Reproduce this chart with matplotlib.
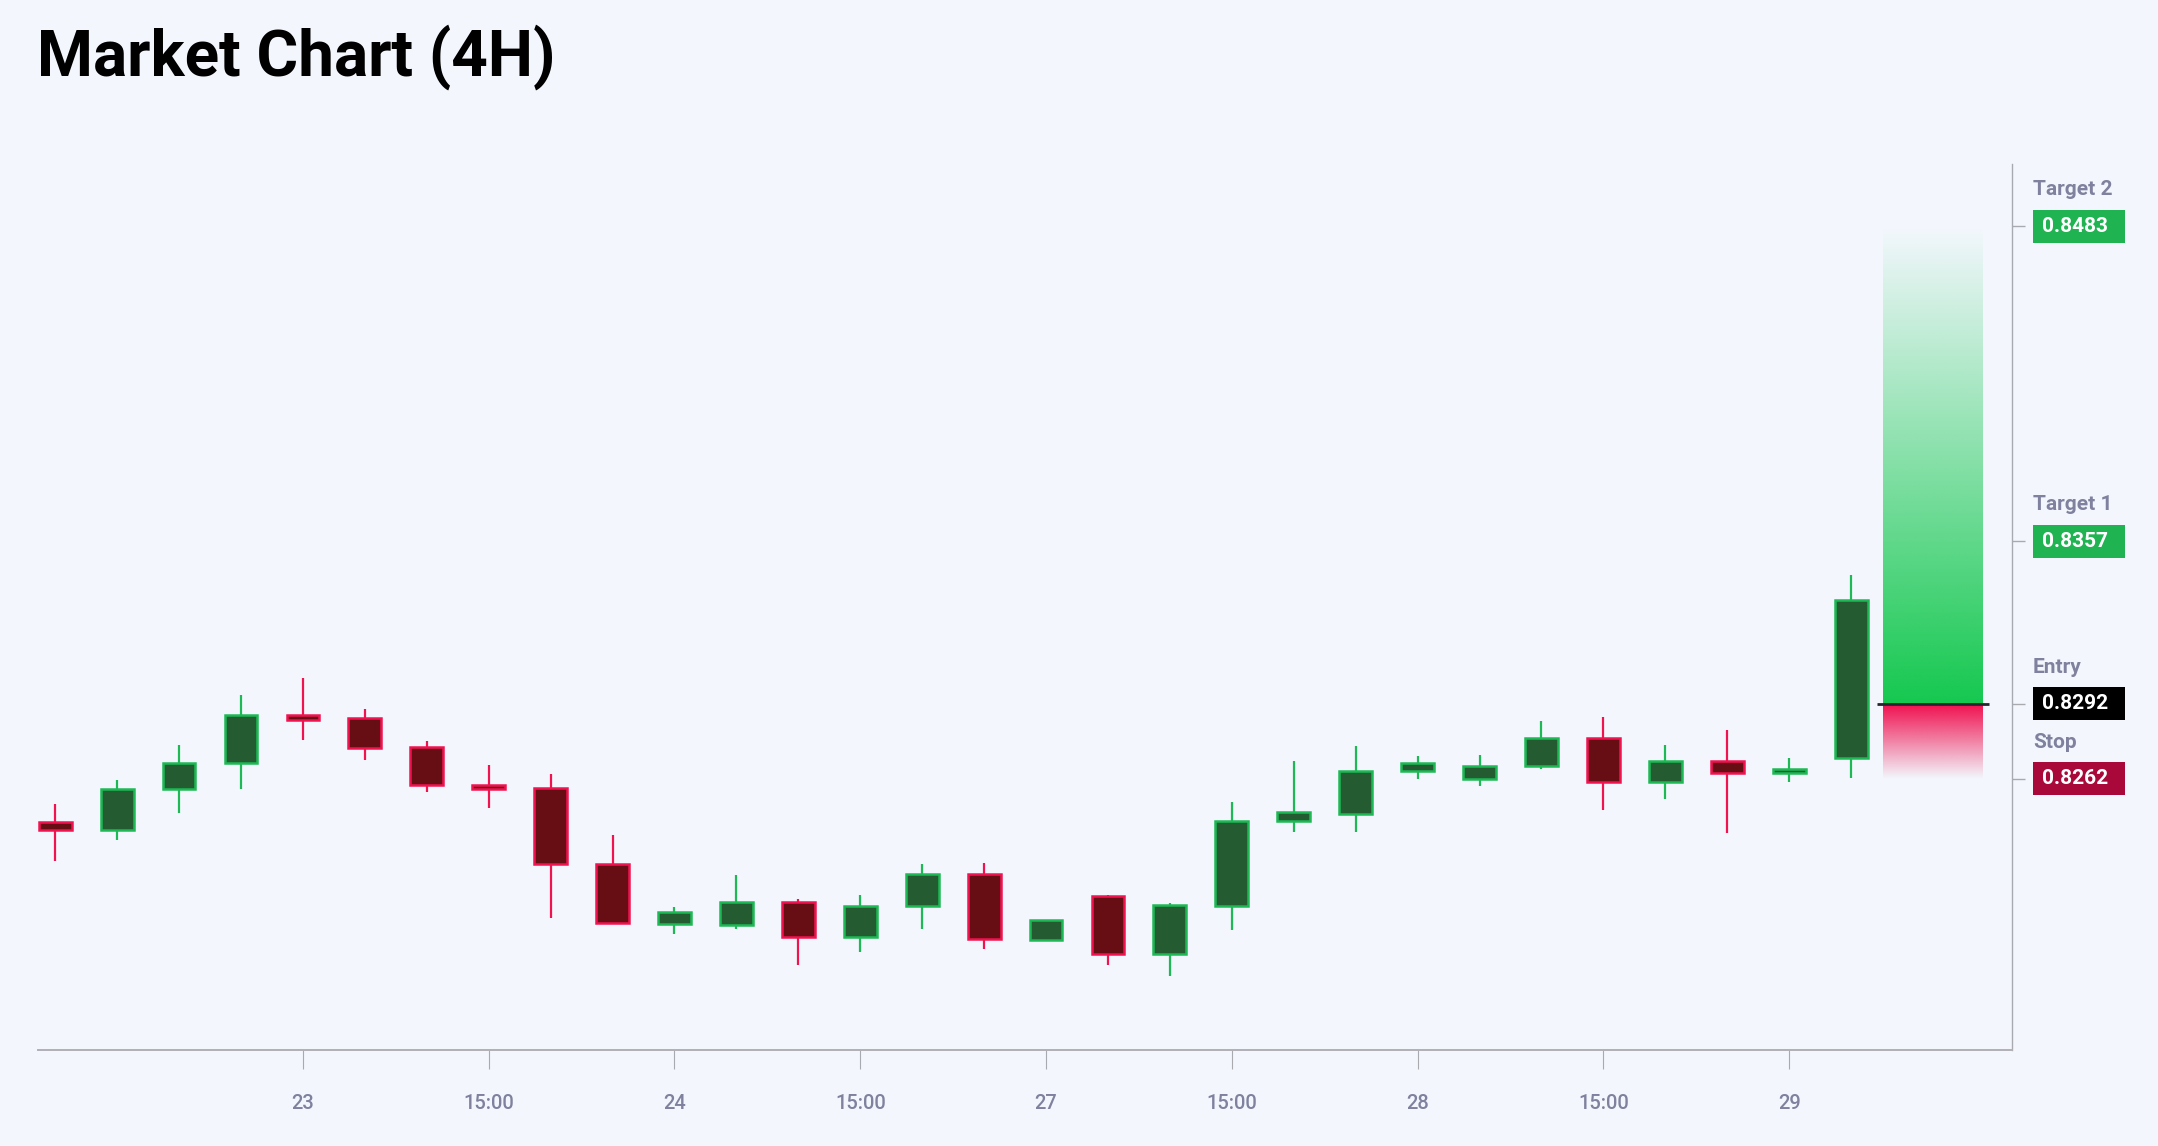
import numpy as np
import matplotlib
matplotlib.use("Agg")
import matplotlib.pyplot as plt
from matplotlib.patches import Rectangle
from matplotlib import transforms

# ---------------- data ----------------
opens  = [0.82448, 0.82414, 0.82579, 0.82683, 0.82876, 0.82863, 0.82748, 0.82596,
          0.82584, 0.82278, 0.82040, 0.82035, 0.82127, 0.81987, 0.82110, 0.82239,
          0.81975, 0.82152, 0.81919, 0.82110, 0.82450, 0.82480, 0.82650, 0.82620,
          0.82671, 0.82783, 0.82608, 0.82691, 0.82642, 0.82702]
highs  = [0.82518, 0.82614, 0.82755, 0.82955, 0.83022, 0.82899, 0.82770, 0.82674,
          0.82640, 0.82394, 0.82108, 0.82235, 0.82140, 0.82154, 0.82280, 0.82282,
          0.82055, 0.82156, 0.82123, 0.82526, 0.82691, 0.82751, 0.82710, 0.82715,
          0.82851, 0.82867, 0.82754, 0.82814, 0.82703, 0.83434]
lows   = [0.82292, 0.82375, 0.82484, 0.82578, 0.82774, 0.82696, 0.82567, 0.82502,
          0.82062, 0.82040, 0.82000, 0.82020, 0.81875, 0.81926, 0.82020, 0.81938,
          0.81970, 0.81874, 0.81831, 0.82015, 0.82407, 0.82408, 0.82619, 0.82591,
          0.82658, 0.82494, 0.82539, 0.82402, 0.82606, 0.82622]
closes = [0.82414, 0.82580, 0.82684, 0.82876, 0.82855, 0.82744, 0.82594, 0.82579,
          0.82278, 0.82042, 0.82087, 0.82127, 0.81987, 0.82111, 0.82238, 0.81979,
          0.82054, 0.81920, 0.82115, 0.82451, 0.82486, 0.82652, 0.82683, 0.82672,
          0.82783, 0.82608, 0.82690, 0.82642, 0.82660, 0.83334]

tick_positions = [4, 7, 10, 13, 16, 19, 22, 25, 28]
tick_labels = ["23", "15:00", "24", "15:00", "27", "15:00", "28", "15:00", "29"]

level_names = ["Target 2", "Target 1", "Entry", "Stop"]
level_values = [0.8483, 0.8357, 0.8292, 0.8262]
level_colors = ["#1fb352", "#1fb352", "#000000", "#a8093a"]

title = "Market Chart (4H)"

# ---------------- style ----------------
BG = "#f3f7fd"
UP_EDGE, UP_FACE = "#1db954", "#245b30"
DN_EDGE, DN_FACE = "#f0134f", "#660e14"
LABEL_COL = "#7f819e"

plt.rcParams["font.family"] = ["Roboto", "DejaVu Sans"]

fig = plt.figure(figsize=(21.58, 11.46), dpi=100, facecolor=BG)
ax = fig.add_axes([0.01784, 0.08377, 0.9324 - 0.01784, 0.8569 - 0.08377])
ax.set_facecolor(BG)

body_w = 0.53
for i, (o, h, l, c) in enumerate(zip(opens, highs, lows, closes)):
    up = c >= o
    ec = UP_EDGE if up else DN_EDGE
    fc = UP_FACE if up else DN_FACE
    ax.vlines(i, l, h, color=ec, linewidth=1.6, zorder=2)
    ax.add_patch(Rectangle((i - body_w / 2, min(o, c)), body_w, abs(c - o),
                           facecolor=fc, edgecolor=ec, linewidth=1.8, zorder=3))

# position box (gradient)
entry, stop, t2 = level_values[2], level_values[3], level_values[0]
bx0, bx1 = 29.52, 31.13
n = 256
g = np.zeros((n, 1, 4))
g[:, 0, :3] = matplotlib.colors.to_rgb("#14c84f")
g[:, 0, 3] = np.linspace(1.0, 0.0, n)
ax.imshow(g, origin="lower", extent=[bx0, bx1, entry, t2], aspect="auto",
          interpolation="bilinear", zorder=1)
r = np.zeros((n, 1, 4))
r[:, 0, :3] = matplotlib.colors.to_rgb("#f0104f")
r[:, 0, 3] = np.linspace(0.0, 1.0, n)
ax.imshow(r, origin="lower", extent=[bx0, bx1, stop, entry], aspect="auto",
          interpolation="bilinear", zorder=1)
ax.hlines(entry, 29.42, 31.23, color="#26262e", linewidth=2.0, zorder=4)

ax.set_xlim(-0.27, 31.6)
ax.set_ylim(0.81535, 0.8508)

# spines
for s in ["left", "top"]:
    ax.spines[s].set_visible(False)
ax.spines["bottom"].set_color("#b0b0b6")
ax.spines["bottom"].set_linewidth(1.4)
ax.spines["right"].set_color("#a9a9b0")
ax.spines["right"].set_linewidth(1.0)

ax.set_xticks(tick_positions)
ax.set_xticklabels(tick_labels)
ax.tick_params(axis="x", length=14, width=0.8, color="#a9a9b0", pad=18,
               labelsize=14.5, labelcolor=LABEL_COL)
for t in ax.get_xticklabels():
    t.set_fontweight("medium")

ax.yaxis.tick_right()
ax.set_yticks(level_values)
ax.set_yticklabels([])
ax.tick_params(axis="y", length=9.5, width=1.0, color="#a9a9b0")

# level labels
trans = transforms.blended_transform_factory(ax.transAxes, ax.transData)
box_h = 0.00132
for name, val, col in zip(level_names, level_values, level_colors):
    ax.add_patch(Rectangle((1.0106, val - box_h / 2), 0.0466, box_h,
                           transform=trans, facecolor=col, edgecolor="none",
                           clip_on=False, zorder=5))
    ax.text(1.0150, val, f"{val:.4f}", transform=trans, color="white",
            fontsize=15, fontweight="bold", va="center", ha="left", zorder=6)
    ax.text(1.0106, val + 0.00147, name, transform=trans, color=LABEL_COL,
            fontsize=15, fontweight="bold", va="center", ha="left", zorder=6)

fig.text(0.0171, 1 - 75.7 / 1146, title, fontsize=46, fontweight="bold",
         color="black", va="baseline", ha="left")

fig.savefig("out.png", dpi=100, facecolor=BG)
